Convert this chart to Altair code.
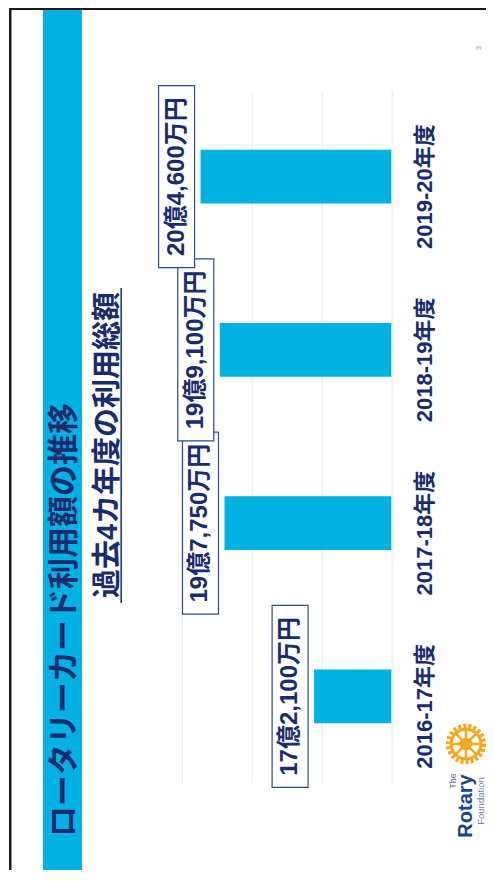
import altair as alt
import pandas as pd

# ---- data ----
categories = ["2016-17年度", "2017-18年度", "2018-19年度", "2019-20年度"]
values = [17.21, 19.775, 19.91, 20.46]  # 億円
value_labels = ["17億2,100万円", "19億7,750万円", "19億9,100万円", "20億4,600万円"]
grid_values = [15, 16, 17, 18, 19, 20, 21]
title_text = "ロータリーカード利用額の推移"
subtitle_text = "過去4カ年度の利用総額"
page_number = "3"

df = pd.DataFrame({"cat": categories, "val": values, "label": value_labels})
one = pd.DataFrame({"a": [0]})

# ---- layout ----
W, H = 209.6, 693
PL, PT = 173.7, 82
TOTAL_W, TOTAL_H = 478, 862
PR = TOTAL_W - PL - W
PB = TOTAL_H - PT - H

NAVY = "#1B2C6E"
BLUE = "#00B2E3"
GOLD = "#F7A81B"
FONT = "Liberation Sans, Noto Sans CJK JP"

xs = alt.Scale(domain=[15, 21], reverse=True, zero=False, nice=False)
ys = alt.Scale(domain=categories[::-1], paddingInner=0.69, paddingOuter=0.345)

base = alt.Chart(df)

bars = base.mark_bar(color=BLUE).encode(
    x=alt.X("val:Q", scale=xs,
            axis=alt.Axis(values=grid_values, labels=False, ticks=False, domain=False,
                          title=None, grid=True, gridColor="#E8E8E8", gridWidth=1)),
    x2=alt.datum(15),
    y=alt.Y("cat:N", scale=ys,
            axis=alt.Axis(orient="right", labelAngle=270, labelAlign="center",
                          labelBaseline="middle", labelPadding=33, ticks=False, tickSize=0,
                          domain=False, title=None, labelFont=FONT, labelFontSize=22,
                          labelFontWeight="bold", labelColor=NAVY, labelOffset=10)),
)

boxes = base.mark_point(shape="M-18,-91H18V91H-18Z", size=4, filled=True, fill="white",
                        stroke="#2B4A8B", strokeWidth=1.2, opacity=1, fillOpacity=1,
                        xOffset=-24).encode(
    x=alt.X("val:Q", scale=xs),
    y=alt.Y("cat:N", scale=ys),
)

texts = base.mark_text(angle=270, font=FONT, fontSize=24, fontWeight="bold", color=NAVY,
                       align="center", baseline="middle", xOffset=-24).encode(
    x=alt.X("val:Q", scale=xs),
    y=alt.Y("cat:N", scale=ys),
    text="label:N",
)

deco = alt.Chart(one)

band = deco.mark_rect(color=BLUE).encode(
    x=alt.value(-138.7), x2=alt.value(-99.7), y=alt.value(-82), y2=alt.value(H + PB))
left_border = deco.mark_rect(color="#1a1a1a").encode(
    x=alt.value(-172.7), x2=alt.value(-170.2), y=alt.value(-82), y2=alt.value(H + PB))
top_border = deco.mark_rect(color="#1a1a1a").encode(
    x=alt.value(-172.7), x2=alt.value(W + PR), y=alt.value(-82), y2=alt.value(-80))

title = deco.mark_text(angle=270, font=FONT, fontSize=31, fontWeight="bold", color=NAVY,
                       align="center", baseline="middle").encode(
    x=alt.value(-116.7), y=alt.value(530), text=alt.value(title_text))
subtitle = deco.mark_text(angle=270, font=FONT, fontSize=29, fontWeight="bold", color=NAVY,
                          align="center", baseline="middle").encode(
    x=alt.value(-74.2), y=alt.value(355), text=alt.value(subtitle_text))
underline = deco.mark_rule(color=NAVY, strokeWidth=1.5).encode(
    x=alt.value(-60.5), y=alt.value(198), y2=alt.value(513))

pnum = deco.mark_text(angle=270, font=FONT, fontSize=8, color="#999999",
                      align="center", baseline="middle").encode(
    x=alt.value(297.3), y=alt.value(-42), text=alt.value(page_number))

# logo
WX, WY = 284.3, 654
wheel_outer = deco.mark_point(shape="circle", size=1250, filled=False, stroke=GOLD,
                              strokeWidth=5, strokeDash=[3, 2], opacity=1).encode(
    x=alt.value(WX), y=alt.value(WY))
wheel_rim = deco.mark_point(shape="circle", size=880, filled=False, stroke=GOLD,
                            strokeWidth=3, opacity=1).encode(
    x=alt.value(WX), y=alt.value(WY))
wheel_spokes = deco.mark_point(
    shape="M-15,0H15M0,-15V15M-10.6,-10.6L10.6,10.6M-10.6,10.6L10.6,-10.6",
    size=4, filled=False, stroke=GOLD, strokeWidth=2.5, opacity=1).encode(
    x=alt.value(WX), y=alt.value(WY))
wheel_hub = deco.mark_point(shape="circle", size=110, filled=True, fill=GOLD,
                            stroke=GOLD, opacity=1).encode(
    x=alt.value(WX), y=alt.value(WY))
rotary = deco.mark_text(angle=270, font="Liberation Sans", fontSize=20, fontWeight="bold",
                        color="#17458F", align="center", baseline="middle").encode(
    x=alt.value(283.8), y=alt.value(716), text=alt.value("Rotary"))
the_txt = deco.mark_text(angle=270, font="Liberation Sans", fontSize=9,
                         color="#5A6E9A", align="center", baseline="middle").encode(
    x=alt.value(270.8), y=alt.value(691), text=alt.value("The"))
foundation = deco.mark_text(angle=270, font="Liberation Sans", fontSize=9.5,
                            color="#6A7EA8", align="center", baseline="middle").encode(
    x=alt.value(298.8), y=alt.value(711), text=alt.value("Foundation"))

chart = alt.layer(
    band, left_border, top_border, bars, boxes, texts, title, subtitle, underline, pnum,
    wheel_outer, wheel_rim, wheel_spokes, wheel_hub, rotary, the_txt, foundation,
).properties(
    width=W, height=H,
    padding={"left": PL, "top": PT, "right": PR, "bottom": PB},
    autosize=alt.AutoSizeParams(type="none"),
    background="white",
).configure_view(stroke=None)

chart.save("out.html", embed_options={"renderer": "svg", "actions": False})
